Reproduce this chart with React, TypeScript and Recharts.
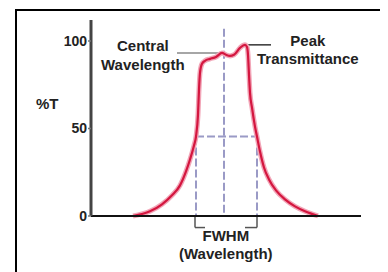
import { LineChart, Line, XAxis, YAxis, ReferenceLine } from "recharts";

// transmission curve of a bandpass filter, x in arbitrary wavelength units
const wavelength = [42, 59, 71, 81, 89, 95, 99, 103, 105, 107, 108, 109, 111, 114, 119, 125, 131, 135, 139, 143, 149, 154, 156, 157, 158, 159, 161, 164, 166, 169, 173, 178, 185, 194, 204, 214, 227];
const transmittance = [0, 2.7, 6.7, 11.8, 17.5, 25.5, 32.3, 40.3, 45.4, 57.9, 72.2, 81.8, 87, 88.7, 89.8, 90.9, 93.2, 92.1, 91.5, 92.1, 96.1, 97.8, 96.6, 92.1, 80.7, 70.4, 61.9, 51.1, 45.4, 36.8, 27.7, 20.9, 14.6, 9.5, 5.5, 2.7, 0];
const yTicks = [0, 50, 100];

const centralWavelength = 133;
const fwhmLeft = 105;
const fwhmRight = 166;
const halfMax = 45.4;

const data = wavelength.map((w, i) => ({ w, t: transmittance[i] }));

const FONT = '"Liberation Sans", Arial, sans-serif';
const DASH = "#9a9ac6";
const textStyle = {
  position: "absolute" as const,
  fontFamily: FONT,
  fontWeight: 700,
  fontSize: 15,
  color: "#222",
  textAlign: "center" as const,
  lineHeight: "19px",
  whiteSpace: "nowrap" as const,
};

export default function App() {
  return (
    <div style={{ position: "relative", width: 380, height: 264, overflow: "hidden", background: "#fff" }}>
      <div style={{ position: "absolute", left: 7, top: 1, width: 373, height: 300, border: "2px solid #000", boxSizing: "border-box" }} />
      <LineChart
        width={380}
        height={264}
        data={data}
        margin={{ top: 12, right: 27, bottom: 55, left: 43 }}
        style={{ position: "absolute", left: 0, top: 0 }}
      >
        <XAxis
          dataKey="w"
          type="number"
          domain={[0, 270]}
          tick={false}
          tickLine={false}
          height={1}
          axisLine={{ stroke: "#111", strokeWidth: 2 }}
        />
        <YAxis
          domain={[0, 112]}
          ticks={yTicks}
          width={40}
          tickSize={3}
          tickMargin={1}
          tickLine={{ stroke: "#777", strokeWidth: 1.5 }}
          axisLine={{ stroke: "#444", strokeWidth: 3 }}
          tick={{ fill: "#222", fontSize: 14, fontWeight: 700, fontFamily: FONT }}
        />
        <ReferenceLine segment={[{ x: centralWavelength, y: 107 }, { x: centralWavelength, y: 0 }]} stroke={DASH} strokeWidth={2} strokeDasharray="8 3" />
        <ReferenceLine segment={[{ x: fwhmLeft, y: halfMax }, { x: fwhmLeft, y: 0 }]} stroke={DASH} strokeWidth={2} strokeDasharray="8 3" />
        <ReferenceLine segment={[{ x: fwhmRight, y: halfMax }, { x: fwhmRight, y: 0 }]} stroke={DASH} strokeWidth={2} strokeDasharray="8 3" />
        <ReferenceLine segment={[{ x: fwhmLeft, y: halfMax }, { x: fwhmRight, y: halfMax }]} stroke={DASH} strokeWidth={2} strokeDasharray="8 3" />
        {/* leader lines for the annotations */}
        <ReferenceLine segment={[{ x: 86, y: 93.2 }, { x: 132, y: 93.2 }]} stroke="#888" strokeWidth={1.5} />
        <ReferenceLine segment={[{ x: 153, y: 97.8 }, { x: 180, y: 97.8 }]} stroke="#333" strokeWidth={1.5} />
        {/* FWHM bracket under the axis */}
        <ReferenceLine ifOverflow="visible" segment={[{ x: fwhmLeft - 1, y: 0 }, { x: fwhmLeft - 1, y: -6.6 }]} stroke="#555" strokeWidth={1.5} />
        <ReferenceLine ifOverflow="visible" segment={[{ x: fwhmLeft - 1, y: -6.6 }, { x: fwhmLeft + 9, y: -6.6 }]} stroke="#555" strokeWidth={1.5} />
        <ReferenceLine ifOverflow="visible" segment={[{ x: fwhmRight - 12, y: -6.6 }, { x: fwhmRight, y: -6.6 }]} stroke="#555" strokeWidth={1.5} />
        <ReferenceLine ifOverflow="visible" segment={[{ x: fwhmRight, y: -6.6 }, { x: fwhmRight, y: 0 }]} stroke="#555" strokeWidth={1.5} />
        <Line type="monotone" dataKey="t" stroke="#f2a6b8" strokeWidth={5} dot={false} isAnimationActive={false} />
        <Line type="monotone" dataKey="t" stroke="#d4163f" strokeWidth={2.2} dot={false} isAnimationActive={false} />
      </LineChart>
      <div style={{ ...textStyle, left: 28, top: 86 }}>%T</div>
      <div style={{ ...textStyle, left: 93, top: 28 }}>Central<br />Wavelength</div>
      <div style={{ ...textStyle, left: 249, top: 24, lineHeight: "18px" }}>Peak<br />Transmittance</div>
      <div style={{ ...textStyle, left: 171, top: 219, lineHeight: "18px" }}>FWHM<br />(Wavelength)</div>
    </div>
  );
}
